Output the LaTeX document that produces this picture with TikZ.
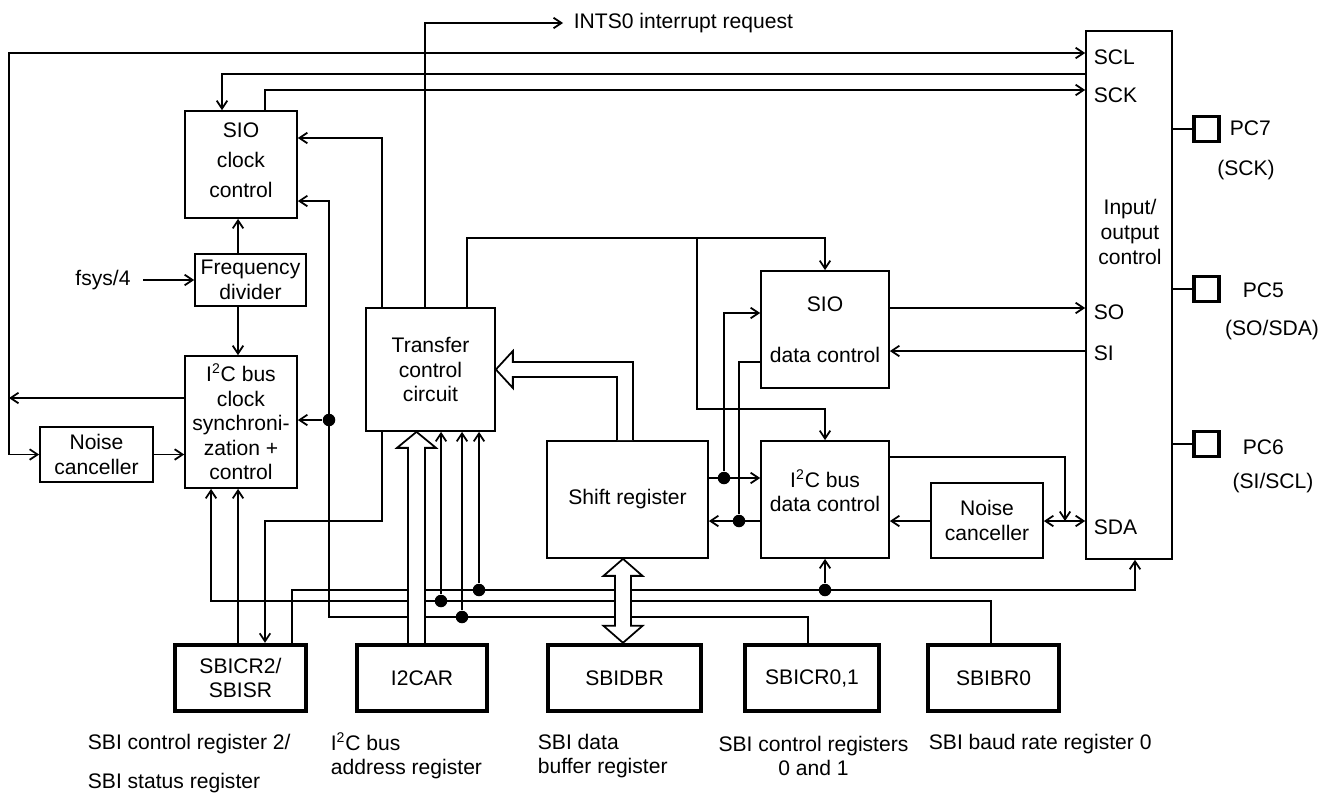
\documentclass[tikz,border=0pt]{standalone}
\usepackage{fontspec}
\setmainfont{Liberation Sans}
\usetikzlibrary{arrows.meta, positioning, calc}

\begin{document}
\begin{tikzpicture}[x=0.02cm, y=-0.02cm, font=\fontsize{12}{14}\selectfont, line width=1pt,
        block/.style={rectangle, draw, align=center, inner sep=0pt, line width=1pt},
        reg/.style={block, line width=2.2pt, minimum width=2.62cm, minimum height=1.33cm},
        pin/.style={rectangle, draw, line width=2.2pt, minimum size=0.5cm, inner sep=0pt},
        txt/.style={align=center, inner sep=0pt},
        port/.style={anchor=west, inner sep=0pt},
        line/.style={draw, -{Straight Barb[length=4.5pt, width=6pt]}},
        dline/.style={draw, {Straight Barb[length=4.5pt, width=6pt]}-{Straight Barb[length=4.5pt, width=6pt]}},
        dot/.style={circle, fill, inner sep=0pt, minimum size=0.25cm},
        hollow/.style={draw, fill=white, line width=1pt}]

        \useasboundingbox (0,0) rectangle (1334,794);

        % Columns and rows of the wiring
        \coordinate (cL) at (9,0);   \coordinate (cA) at (211,0); \coordinate (cB) at (222,0);
        \coordinate (cC) at (238,0); \coordinate (cD) at (265,0); \coordinate (cE) at (292,0);
        \coordinate (cF) at (329,0); \coordinate (cG) at (382,0); \coordinate (cH) at (425,0);
        \coordinate (cI) at (441,0); \coordinate (cJ) at (462,0); \coordinate (cK) at (479,0);
        \coordinate (cM) at (467,0); \coordinate (cN) at (697,0); \coordinate (cP) at (724,0);
        \coordinate (cQ) at (739,0); \coordinate (cS) at (808,0); \coordinate (cT) at (991,0);
        \coordinate (cU) at (1065,0); \coordinate (cV) at (1135,0);
        \coordinate (rSCL) at (0,53); \coordinate (rL2) at (0,74); \coordinate (rSCK) at (0,90);
        \coordinate (rB1) at (0,138); \coordinate (rB2) at (0,201); \coordinate (rTC) at (0,238);
        \coordinate (rSO) at (0,308); \coordinate (rS2) at (0,313); \coordinate (rSI) at (0,351);
        \coordinate (rS3) at (0,362); \coordinate (rA) at (0,398); \coordinate (rBr) at (0,409);
        \coordinate (rI) at (0,420); \coordinate (rDo) at (0,457); \coordinate (rSh) at (0,478);
        \coordinate (rSDA) at (0,521); \coordinate (rTop) at (0,590); \coordinate (rMid) at (0,601);
        \coordinate (rBot) at (0,617);

        % Blocks
        \node [block, minimum width=2.24cm, minimum height=2.14cm, font=\fontsize{12}{17}\selectfont] (sioclk) at (241,164.5) {SIO\\clock\\control\\[-12pt]\mbox{}};
        \node [block, minimum width=2.22cm, minimum height=1.04cm] (freqdiv) at (250.5,280) {Frequency\\divider};
        \node [block, minimum width=2.24cm, minimum height=2.64cm] (i2cclk) at (241,422) {I\textsuperscript{2}C bus\\clock\\synchroni-\\zation +\\control};
        \node [block, minimum width=2.26cm, minimum height=1.1cm] (noisel) at (96.5,454.5) {Noise\\canceller};
        \node [block, minimum width=2.58cm, minimum height=2.46cm] (transfer) at (430.5,369.5) {Transfer\\control\\circuit};
        \node [block, minimum width=2.56cm, minimum height=2.34cm] (siodata) at (825,329.5) {SIO\\[15pt]data control};
        \node [block, minimum width=2.56cm, minimum height=2.34cm] (i2cdata) at (825,499.5) {I\textsuperscript{2}C bus\\data control\\[-4pt]\mbox{}};
        \node [block, minimum width=3.22cm, minimum height=2.34cm] (shiftreg) at (627.5,499.5) {Shift register};
        \node [block, minimum width=2.24cm, minimum height=1.5cm] (noiser) at (987,520.5) {Noise\\canceller};
        \node [block, minimum width=1.72cm, minimum height=10.56cm] (io) at (1129,295) {};
        \node [txt] (iotext) at (1130,232) {Input/\\output\\control};
        \node [port] (pSCL) at (1093,57) {SCL};
        \node [port] (pSCK) at (1093,95) {SCK};
        \node [port] (pSO) at (1093,312) {SO};
        \node [port] (pSI) at (1093,353) {SI};
        \node [port] (pSDA) at (1093,527) {SDA};

        % Registers
        \node [reg] (sbicr2) at (240.5,678) {SBICR2/\\SBISR};
        \node [reg, minimum width=2.6cm] (i2car) at (422,678) {I2CAR};
        \node [reg, minimum width=3.06cm] (sbidbr) at (624.5,678) {SBIDBR};
        \node [reg, minimum width=2.68cm] (sbicr01) at (812,678) {SBICR0,1};
        \node [reg] (sbibr0) at (993.5,678) {SBIBR0};

        % Pins
        \node [pin] (pc7) at (1206.5,129) {};
        \node [pin] (pc5) at (1206.5,289) {};
        \node [pin] (pc6) at (1206.5,444) {};
        \node [port] (pc7l) at (1229,128) {PC7};
        \node [txt] (pc7s) at (1246,170) {(SCK)};
        \node [port] (pc5l) at (1242,290) {PC5};
        \node [txt] (pc5s) at (1272,330) {(SO/SDA)};
        \node [port] (pc6l) at (1242,447) {PC6};
        \node [txt] (pc6s) at (1273,483) {(SI/SCL)};
        \draw (io.east |- pc7) -- (pc7.west);
        \draw (io.east |- pc5) -- (pc5.west);
        \draw (io.east |- pc6) -- (pc6.west);

        % Captions
        \node [port] (capA) at (87,744) {SBI control register 2/};
        \node [port] (capA2) at (87,783) {SBI status register};
        \node [port, align=left] (capB) at (330,756) {I\textsuperscript{2}C bus\\address register};
        \node [port, align=left] (capC) at (537,756) {SBI data\\buffer register};
        \node [txt] (capD) at (813.5,756) {SBI control registers\\0 and 1};
        \node [port] (capE) at (928,744) {SBI baud rate register 0};

        % Inputs and interrupt
        \node [txt, inner xsep=0.24cm] (fsys) at (103,280) {fsys/4};
        \path [line] (fsys) -- (freqdiv);
        \node [port, inner xsep=0.2cm] (ints) at (563,23) {INTS0 interrupt request};
        \path [line] (transfer.north -| cH) |- (ints.west);

        % Clock side
        \path [line] (i2cclk.west |- rA) -- (cL |- rA);
        \path [line] (noisel.west -| cL) -- (noisel.west);
        \path [line] (noisel.west -| cL) |- (io.west |- rSCL);
        \path [line] (noisel) -- (i2cclk.west |- noisel);
        \path [line] (io.west |- rL2) -| (sioclk.north -| cB);
        \path [line] (sioclk.north -| cD) |- (io.west |- rSCK);
        \path [line] (freqdiv.north -| cC) -- (sioclk.south -| cC);
        \path [line] (freqdiv.south -| cC) -- (i2cclk.north -| cC);
        \path [line] (transfer.north -| cG) |- (sioclk.east |- rB1);
        \path [line] (sbicr2.north -| cC) -- (i2cclk.south -| cC);
        \path [line] (transfer.south -| cG) |- (cD |- rSDA) -- (sbicr2.north -| cD);

        % Register buses
        \path [line] (sbicr01.north -| cS) |- (cF |- rBot) |- (sioclk.east |- rB2);
        \path [line] (sbibr0.north -| cT) |- (cA |- rMid) -- (i2cclk.south -| cA);
        \path [line] (sbicr2.north -| cE) |- (cV |- rTop) -- (io.south -| cV);
        \node [dot] (d1) at (cF |- rI) {};
        \node [dot] (d2) at (cJ |- rBot) {};
        \node [dot] (d3) at (cI |- rMid) {};
        \node [dot] (d4) at (cK |- rTop) {};
        \node [dot] (d5) at (i2cdata.south |- rTop) {};
        \path [line] (d1) -- (i2cclk.east |- d1);
        \path [line] (d2) -- (transfer.south -| d2);
        \path [line] (d3) -- (transfer.south -| d3);
        \path [line] (d4) -- (transfer.south -| d4);
        \path [line] (d5) -- (i2cdata.south);

        % Data side
        \path [line] (transfer.north -| cM) |- (siodata.north |- rTC) -- (siodata.north);
        \path [line] (cN |- rTC) |- (i2cdata.north |- rBr) -- (i2cdata.north);
        \path [line] (siodata.east |- rSO) -- (io.west |- rSO);
        \path [line] (io.west |- rSI) -- (siodata.east |- rSI);
        \path [line] (shiftreg.east |- rSh) -- (i2cdata.west |- rSh);
        \node [dot] (d6) at (cP |- rSh) {};
        \path [line] (d6) |- (siodata.west |- rS2);
        \path [line] (i2cdata.west |- rSDA) -- (shiftreg.east |- rSDA);
        \node [dot] (d7) at (cQ |- rSDA) {};
        \draw (siodata.west |- rS3) -| (d7);
        \path [line] (i2cdata.east |- rDo) -| (cU |- rSDA);
        \path [dline] (noiser.east |- rSDA) -- (io.west |- rSDA);
        \path [line] (noiser.west |- rSDA) -- (i2cdata.east |- rSDA);

        % Hollow bus arrows
        \coordinate (ha) at (416.5,0);
        \coordinate (tipA) at (transfer.south -| ha);
        \draw [hollow] ($(i2car.north -| ha)+(-8.5,0)$) -- ($(tipA)+(-8.5,16)$) -- ($(tipA)+(-19.5,16)$) -- (tipA)
            -- ($(tipA)+(19.5,16)$) -- ($(tipA)+(8.5,16)$) -- ($(i2car.north -| ha)+(8.5,0)$);
        \coordinate (hb) at (0,369.5);
        \coordinate (sa) at (617,0); \coordinate (sb) at (633,0);
        \coordinate (tipB) at (transfer.east |- hb);
        \draw [hollow] (shiftreg.north -| sa) |- ($(tipB)+(17,7.5)$) -- ($(tipB)+(17,18.5)$) -- (tipB)
            -- ($(tipB)+(17,-18.5)$) -- ($(tipB)+(17,-7.5)$) -| (shiftreg.north -| sb);
        \coordinate (hc) at (623,0);
        \coordinate (tipC) at (shiftreg.south -| hc);
        \coordinate (tipD) at (sbidbr.north -| hc);
        \draw [hollow] (tipC) -- ++(19.5,17) -- ++(-11.5,0) -- ($(tipD)+(8,-17)$) -- ++(11.5,0) -- (tipD)
            -- ++(-19.5,-17) -- ++(11.5,0) -- ($(tipC)+(-8,17)$) -- ++(-11.5,0) -- cycle;
    \end{tikzpicture}
\end{document}
